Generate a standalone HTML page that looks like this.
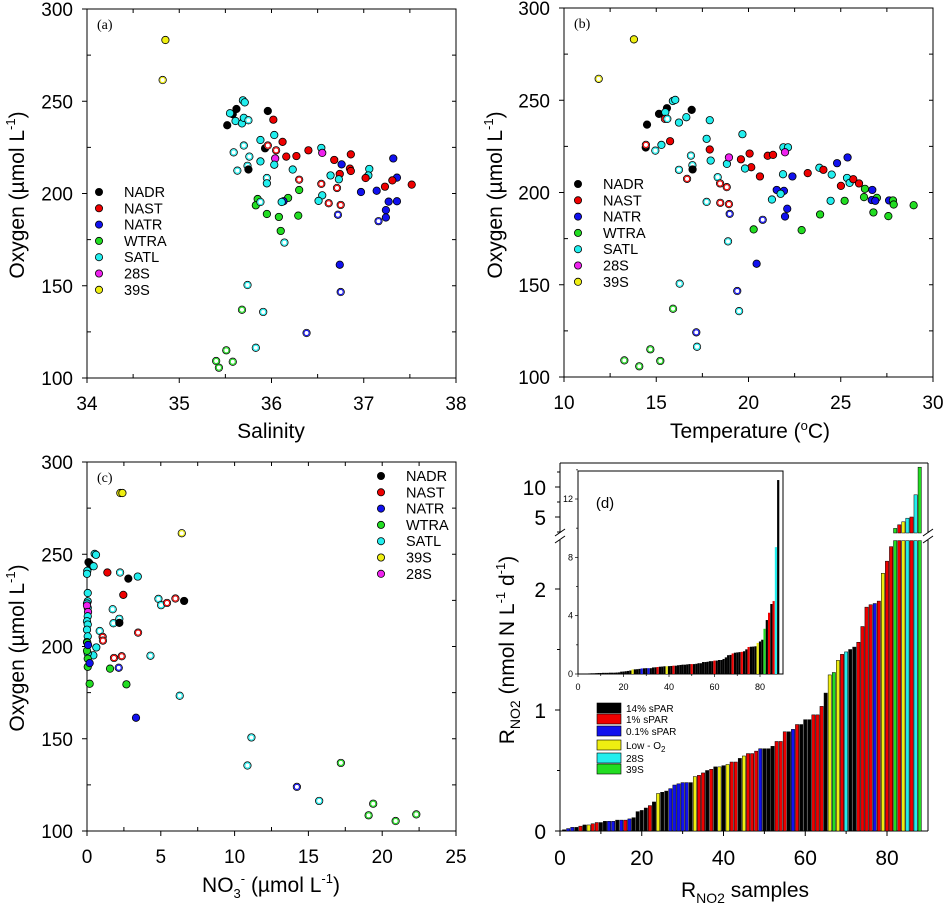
<!DOCTYPE html>
<html><head><meta charset="utf-8"><style>
html,body{margin:0;padding:0;background:#fff;}
svg{display:block;font-family:"Liberation Sans",sans-serif;}
</style></head><body>
<svg id="fig" width="946" height="907" viewBox="0 0 946 907" xmlns="http://www.w3.org/2000/svg"></svg>
<script>
// ---------- Panel (a) data: salinity vs oxygen ----------
const aSal=[34.85,34.82,35.52,35.62,35.58,35.55,35.69,35.71,35.61,35.68,
35.70,35.75,35.96,36.02,36.03,35.88,35.93,35.96,36.12,36.05,
35.70,35.59,35.76,36.04,36.16,36.27,36.40,36.54,36.55,35.88,
36.03,35.74,35.63,35.75,36.23,36.30,35.95,35.95,36.54,36.68,
36.76,36.86,36.85,36.86,36.74,36.64,36.73,36.71,37.06,37.05,
37.02,37.32,37.36,37.31,37.52,37.23,36.97,37.14,37.27,37.36,
37.24,37.24,37.16,36.72,36.75,36.62,36.55,36.51,36.30,36.18,
36.13,36.11,35.85,35.83,35.88,35.95,36.08,36.29,36.10,36.14,
36.74,36.75,35.74,35.68,35.91,36.38,35.83,35.51,35.40,35.58,35.43];
const aOxy=[283.2,261.5,237,245.8,243,243.5,250.5,249.4,239.3,238,
241,239.7,244.7,240,231.7,229,224.5,226,228,223.4,
226,222.3,220,219,220,220.3,223.4,224.7,222,217.4,
215.6,215,212.4,213,213,207.5,208.4,205.5,205.2,218.2,
215.8,221.2,213.5,212.2,210.6,209.8,207.7,203,213.3,209.8,
208.4,219,208.6,207.1,204.8,203.7,200.8,201.5,195.6,195.8,
191,187,185,188.5,193.8,194.7,199,196,201.9,197.6,
195.8,195.4,197,193.6,195.4,188.9,187.3,188,179.7,173.4,
161.4,146.6,150.4,137,135.8,124.4,116.4,115,109.2,108.8,105.6];
const aCls="YyKKKCCCCC"+"CcKRCCKrRr"+"cccMRRRCMC"+"CccKCrcCrR"+"BRRRRCCrCC"+"RBBRRRBBBB"+"BBbbrrCCGG"+"BCGGcGGGGc"+"Bbcgcbcgggg";

// ---------- Panel (b) data: temperature vs oxygen ----------
const bTemp=[13.79,11.88,14.5,15.15,15.58,16.92,15.49,15.47,15.6,15.9,
16.03,16.23,16.63,17.9,17.73,19.67,14.43,14.44,14.95,15.28,
15.75,16.88,16.96,16.97,16.23,16.67,17.9,17.95,18.33,18.46,
18.82,18.47,18.94,17.73,18.83,18.94,19.59,20.06,20.15,19.81,
20.62,21.04,21.33,21.89,22.14,21.98,21.87,22.38,21.53,21.92,
21.74,21.27,22.1,21.98,20.77,18.98,20.28,22.88,18.89,20.44,
16.27,19.39,15.91,19.49,17.17,17.21,14.68,13.27,15.22,14.08,
23.21,23.84,24.06,24.51,24.8,25.37,25.34,25.48,25.68,25.01,
25.99,26.31,26.71,24.45,25.21,23.88,26.26,26.96,26.68,26.87,27.62,27.83,27.87,26.77,27.58,28.95];
const bOxy=[283,261.6,236.8,242.6,245.7,244.8,243.5,239.9,239.9,249.6,
250.2,237.9,240.8,239.2,229.1,231.6,224.4,225.8,222.7,225.8,
227.8,220,214.8,212.5,212.3,207.4,223.3,217.3,208.3,204.9,
202.9,194.4,193.7,194.9,215.5,219,218,221.1,213.7,213,
208.7,219.9,220.4,224.5,224.5,221.8,209.9,208.7,201.4,200.9,
199.3,196.2,191.2,187,185.2,188.4,180,179.6,173.5,161.4,
150.6,146.6,137,135.7,124.2,116.4,115,109,108.7,105.8,
210.5,213.4,212.3,209.7,215.9,219,207.9,205.2,207.2,203.6,
204.9,202,201.4,195.5,195.5,188.1,197.5,197.1,195.9,195.5,195.7,195.7,193.5,189.2,187.2,193.1];
const bCls="YyKKKKCrcC"+"CCCCCCKrcC"+"RccKcrRCcr"+"rrrcCMRRRC"+"RRRCCMCBBB"+"CCBBbbGGcB"+"cbgcbcgggg"+"RCRCBBCCRR"+"RGBCGGGGBBBGGGGG";

// ---------- Panel (c) data: nitrate vs oxygen ----------
const cNO3=[2.26,2.4,6.42,0.1,0.18,0.25,0.52,0.61,0.45,0.02,
0,1.38,2.24,2.8,3.44,2.46,0.05,0.05,0,0.05,
4.84,5.02,5.42,5.99,6.58,0,0.07,1.74,2.19,1.79,
2.19,0.05,0,0.05,0,0.05,0,0.86,1.06,1.08,
3.46,0.63,0.43,0.05,0.02,0,0.05,0.05,0.07,0.18,
1.83,2.35,4.3,2.15,1.56,0.18,2.67,6.28,3.32,11.14,
10.87,17.2,14.22,15.73,19.39,19.08,20.91,22.31];
const cOxy=[283.2,283.2,261.4,245.7,245,243.5,250.2,249.7,243.5,241,
239.4,240.1,240.1,236.8,237.9,228,229,224.5,223.3,221,
225.8,222.4,223.6,226,224.7,222.2,218.7,220.2,215,212.6,
212.8,216.4,213.7,211.9,209.1,205.5,202.4,208.4,205.2,203.2,
207.5,199.5,195.2,196.3,202.1,197.7,193.4,189,200.8,191,
193.8,194.7,195,188.5,188,179.8,179.5,173.3,161.4,150.7,
135.5,136.9,123.9,116.3,114.8,108.5,105.4,109];
const cCls="YYyKKKCCCC"+"CRcKCRCCCC"+"ccrrKMMccc"+"KCCCCCCcrr"+"rCCCGGGGBB"+"rrcbGGGcBc"+"cgbcgggg";

// ---------- Panel (d) data: RNO2 per sample ----------
const dRate=[0.01,0.02,0.03,0.03,0.04,0.05,0.05,0.06,0.07,0.07,
0.08,0.08,0.08,0.09,0.09,0.09,0.10,0.11,0.16,0.17,
0.19,0.21,0.24,0.31,0.32,0.33,0.35,0.38,0.39,0.40,
0.40,0.40,0.45,0.46,0.48,0.50,0.51,0.53,0.53,0.54,
0.55,0.57,0.57,0.60,0.62,0.64,0.64,0.66,0.68,0.68,
0.68,0.70,0.74,0.74,0.82,0.82,0.84,0.88,0.88,0.92,
0.92,0.96,0.96,1.03,1.14,1.29,1.31,1.41,1.46,1.48,
1.50,1.52,1.56,1.69,1.85,1.87,1.88,1.90,2.13,2.23,
2.35,3.1,3.7,4.2,4.8,5.0,8.7,13.3];
const dCls="kbbkrkyrrk"+"kbbkbrbkkk"+"krkykkbbbb"+"bkyrrkrkyk"+"yrrkyrrrbk"+"kkrrrkbrkk"+"krrrkygyrc"+"kkrrrrbryr"+"rgrycrcg";
const dInsetCls="kkkkkkkkkk"+"kkkkkkkkkk"+"kkkykkkbkk"+"bkkkrkkkyk"+"krkkkkkkkr"+"kkkkkkkkkr"+"kkkkkkkrkk"+"krkkrkkkyk"+"kgkrkrck";
const legendA=["NADR","NAST","NATR","WTRA","SATL","28S","39S"];
const legendAcls="KRBGCMY";
const legendC=["NADR","NAST","NATR","WTRA","SATL","39S","28S"];
const legendCcls="KRBGCYM";
const legendD=["14% sPAR","1% sPAR","0.1% sPAR","Low - O","28S","39S"];
const legendDcls="krbycg";

const COL={k:"#000000",r:"#ee0000",b:"#1111ee",g:"#22dd22",c:"#22eeee",m:"#ee22ee",y:"#eeee11"};
const NS="http://www.w3.org/2000/svg";
const svg=document.getElementById("fig");
function mk(tag,attrs,parent){const e=document.createElementNS(NS,tag);for(const k in attrs)e.setAttribute(k,attrs[k]);(parent||svg).appendChild(e);return e;}
function txt(x,y,s,size,anchor,parent){const t=mk("text",{x:x,y:y,"font-size":size,"text-anchor":anchor||"start",fill:"#000"},parent);t.textContent=s;return t;}

function lin(d0,d1,r0,r1){return v=>r0+(v-d0)*(r1-r0)/(d1-d0);}

function frame(x0,y0,x1,y1,name){
  const g=mk("g",{});
  
  
  const r=mk("rect",{x:x0,y:y0,width:x1-x0,height:y1-y0,fill:"none",stroke:"#000","stroke-width":1},g);
  
  
  return g;
}

function scatterPanel(o){
  const g=frame(o.x0,o.y0,o.x1,o.y1,o.name);
  const sx=lin(o.xmin,o.xmax,o.x0,o.x1), sy=lin(100,300,o.y1,o.y0);
  for(let v=o.xmin;v<=o.xmax+1e-9;v+=o.xstep/2){
    const X=sx(v), major=Math.abs((v-o.xmin)/o.xstep-Math.round((v-o.xmin)/o.xstep))<1e-6;
    mk("line",{x1:X,x2:X,y1:o.y1,y2:o.y1+(major?5:-4),stroke:"#000"},g);
    mk("line",{x1:X,x2:X,y1:o.y0,y2:o.y0+4,stroke:"#000"},g);
    if(major){const t=txt(X,o.y1+32,String(Math.round(v*100)/100),19,"middle",g);
      
      }
  }
  for(let v=100;v<=300;v+=25){
    const Y=sy(v), major=v%50===0;
    mk("line",{x1:o.x0,x2:o.x0-(major?5:-4),y1:Y,y2:Y,stroke:"#000"},g);
    mk("line",{x1:o.x1,x2:o.x1-4,y1:Y,y2:Y,stroke:"#000"},g);
    if(major){const t=txt(o.x0-14,Y+7,String(v),19,"end",g);
      
      }
  }
  for(let i=0;i<o.xs.length;i++){
    const c=o.cls[i], filled=c===c.toUpperCase(), col=COL[c.toLowerCase()];
    const X=sx(o.xs[i]), Y=sy(o.ys[i]);
    if(filled){
      const p=mk("circle",{cx:X,cy:Y,r:3.7,fill:col,stroke:"#000","stroke-width":0.8},g);
      
      
    }else{
      const p=mk("circle",{cx:X,cy:Y,r:3.7,fill:"#fff",stroke:"#000","stroke-width":0.8},g);
      
      
      const q=mk("circle",{cx:X,cy:Y,r:2.6,fill:"#fff",stroke:col,"stroke-width":1.2},g);
      
      
    }
  }
  const pl=txt(o.x0+10,o.y0+20,o.label,14,"start",g);
  pl.setAttribute("font-family","Liberation Serif, serif");
  
  
  for(let i=0;i<o.leg.length;i++){
    const ly=o.ly+i*16.3;
    const d=mk("circle",{cx:o.lx,cy:ly,r:3.6,fill:COL[o.legCls[i].toLowerCase()],stroke:"#000","stroke-width":0.8},g);
    
    
    const t=txt(o.lx+25,ly+5,o.leg[i],14.5,"start",g);
    
    
  }
  return g;
}

function yTitle(cx,cy,g){
  const t=mk("text",{x:0,y:0,"font-size":21,"text-anchor":"middle",transform:`translate(${cx},${cy}) rotate(-90)`},g);
  t.innerHTML='Oxygen (µmol L<tspan dy="-9" font-size="13">-1</tspan><tspan dy="9">)</tspan>';
  
  
}

const ga=scatterPanel({name:"panel-a",x0:87,y0:9,x1:456,y1:378,xmin:34,xmax:38,xstep:1,xs:aSal,ys:aOxy,cls:aCls,label:"(a)",leg:legendA,legCls:legendAcls,lx:99,ly:192});
yTitle(24,195,ga);
const xa=txt(271,438,"Salinity",21,"middle",ga);



const gb=scatterPanel({name:"panel-b",x0:564,y0:8,x1:933,y1:377,xmin:10,xmax:30,xstep:5,xs:bTemp,ys:bOxy,cls:bCls,label:"(b)",leg:legendA,legCls:legendAcls,lx:578,ly:184});
yTitle(502,195,gb);
const xb=mk("text",{x:750,y:438,"font-size":21,"text-anchor":"middle"},gb);
xb.innerHTML='Temperature (<tspan dy="-8" font-size="13">o</tspan><tspan dy="8">C)</tspan>';



const gc=scatterPanel({name:"panel-c",x0:87,y0:462,x1:456,y1:831,xmin:0,xmax:25,xstep:5,xs:cNO3,ys:cOxy,cls:cCls,label:"(c)",leg:legendC,legCls:legendCcls,lx:381,ly:476});
yTitle(24,648,gc);
const xc=mk("text",{x:271,y:892,"font-size":21,"text-anchor":"middle"},gc);
xc.innerHTML='NO<tspan dy="6" font-size="13">3</tspan><tspan dy="-15" font-size="13">-</tspan><tspan dy="9"> (µmol L</tspan><tspan dy="-9" font-size="13">-1</tspan><tspan dy="9">)</tspan>';



(function(){
  const x0=560,x1=928,y0=463,y1=831;
  const g=mk("g",{});
  
  
  const breakTop=533, breakBot=540;
  mk("line",{x1:x0,x2:x0,y1:y0,y2:breakTop,stroke:"#000"},g);
  mk("line",{x1:x0,x2:x0,y1:breakBot,y2:y1,stroke:"#000"},g);
  mk("line",{x1:x1,x2:x1,y1:y0,y2:breakTop,stroke:"#000"},g);
  mk("line",{x1:x1,x2:x1,y1:breakBot,y2:y1,stroke:"#000"},g);
  mk("line",{x1:x0,x2:x1,y1:y0,y2:y0,stroke:"#000"},g);
  mk("line",{x1:x0,x2:x1,y1:y1,y2:y1,stroke:"#000"},g);
  [x0,x1].forEach(X=>{
    mk("line",{x1:X-5,x2:X+5,y1:breakTop+3,y2:breakTop-4,stroke:"#000"},g);
    mk("line",{x1:X-5,x2:X+5,y1:breakBot+3,y2:breakBot-4,stroke:"#000"},g);
  });
  const sx=lin(0,80,560,887);
  const syL=lin(0,2,831,589);
  const syU=lin(5,10,517,487);
  const LMAX=2.4, UMIN=2.4;
  for(let v=0;v<=2.001;v+=0.5){const Y=syL(v),major=Math.abs(v-Math.round(v))<1e-6;
    mk("line",{x1:x0,x2:x0-(major?5:3),y1:Y,y2:Y,stroke:"#000"},g);
    if(major){const t=txt(x0-14,Y+8,String(v),21,"end",g);
      
      }}
  [2.5,5,7.5,10,12.5].forEach(v=>{const Y=syU(v);const major=v%5===0;
    mk("line",{x1:x0,x2:x0-(major?5:3),y1:Y,y2:Y,stroke:"#000"},g);
    if(major){const t=txt(x0-14,Y+8,String(v),21,"end",g);
      
      }});
  for(let v=0;v<=80;v+=10){const X=sx(v),major=v%20===0;
    mk("line",{x1:X,x2:X,y1:y1,y2:y1+(major?5:3),stroke:"#000"},g);
    if(major){const t=txt(X,y1+34,String(v),21,"middle",g);
      
      }}
  const bw=3.3;
  for(let i=0;i<dRate.length;i++){
    const v=dRate[i], X=sx(i+1)-bw/2, col=COL[dCls[i]];
    const top=syL(Math.min(v,LMAX));
    const b=mk("rect",{x:X,y:top,width:bw,height:y1-top,fill:col,stroke:"#000","stroke-width":0.5},g);
    
    
    if(v>UMIN){const ut=syU(v);
      const b2=mk("rect",{x:X,y:ut,width:bw,height:breakTop-ut,fill:col,stroke:"#000","stroke-width":0.5},g);
      
      }
  }
  const ig=mk("g",{},g);
  
  
  const ix0=578,ix1=783,iy0=471,iy1=674;
  mk("rect",{x:ix0,y:iy0,width:ix1-ix0,height:iy1-iy0,fill:"#fff",stroke:"#000","stroke-width":1},ig);
  const isx=lin(0,80,578,760), isy=lin(0,12,674,499);
  for(let i=0;i<dRate.length;i++){
    const top=isy(dRate[i]);
    const b=mk("rect",{x:isx(i+1)-1.1,y:top,width:2.2,height:iy1-top,fill:COL[dInsetCls[i]]},ig);
    
    
  }
  for(let v=0;v<=80;v+=10){const X=isx(v);mk("line",{x1:X,x2:X,y1:iy1,y2:iy1+(v%20?2:3),stroke:"#000","stroke-width":0.7},ig);
    if(v%20===0){const t=txt(X,iy1+16,String(v),9,"middle",ig);
      
      }}
  for(let v=0;v<=14;v+=2){const Y=isy(v);mk("line",{x1:ix0,x2:ix0-(v%4?2:3),y1:Y,y2:Y,stroke:"#000","stroke-width":0.7},ig);
    if(v%4===0&&v<=12){const t=txt(ix0-5,Y+3,String(v),9,"end",ig);
      
      }}
  const dl=txt(605,508,"(d)",15,"middle",ig);
  
  
  const rowsY=[708,719,731,745,758,769];
  for(let i=0;i<legendD.length;i++){
    const sw=mk("rect",{x:597,y:rowsY[i]-5,width:24,height:10,fill:COL[legendDcls[i]],stroke:"#000","stroke-width":0.6},g);
    
    
    const t=txt(626,rowsY[i]+4,legendD[i],10,"start",g);
    if(legendD[i]==="Low - O"){const s=mk("tspan",{dy:3,"font-size":8},t);s.textContent="2";}
    
    
  }
  const yt=mk("text",{x:0,y:0,"font-size":21,"text-anchor":"middle",transform:"translate(514,650) rotate(-90)"},g);
  yt.innerHTML='R<tspan dy="6" font-size="14">NO2</tspan><tspan dy="-6"> (nmol N L</tspan><tspan dy="-9" font-size="13">-1</tspan><tspan dy="9"> d</tspan><tspan dy="-9" font-size="13">-1</tspan><tspan dy="9">)</tspan>';
  
  
  const xt=mk("text",{x:745,y:897,"font-size":21,"text-anchor":"middle"},g);
  xt.innerHTML='R<tspan dy="6" font-size="14">NO2</tspan><tspan dy="-6"> samples</tspan>';
  
  
})();
</script>
</body></html>
